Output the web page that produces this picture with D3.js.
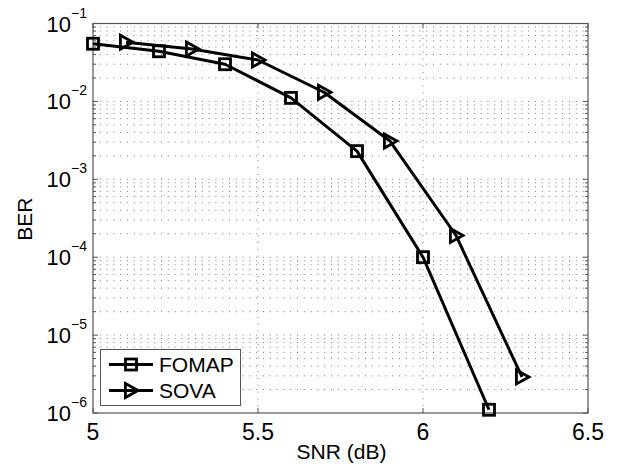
<!DOCTYPE html>
<html>
<head>
<meta charset="utf-8">
<script src="https://cdn.jsdelivr.net/npm/d3@7/dist/d3.min.js"></script>
<style>
  html, body { margin: 0; padding: 0; background: #fff; }
  svg { display: block; font-family: "Liberation Sans", Arial, Helvetica, sans-serif; }
</style>
</head>
<body>
<svg id="chart" width="618" height="470"></svg>
<script>
// BER curves for the two decoders
const fomapSnr = [5.0, 5.2, 5.4, 5.6, 5.8, 6.0, 6.2];
const fomapBer = [0.055, 0.044, 0.030, 0.0111, 0.0023, 0.0001, 0.0000011];
const sovaSnr  = [5.1, 5.3, 5.5, 5.7, 5.9, 6.1, 6.3];
const sovaBer  = [0.0575, 0.047, 0.034, 0.0131, 0.0031, 0.00019, 0.0000029];
const xTicks = [5, 5.5, 6, 6.5];
const xTickLabels = ["5", "5.5", "6", "6.5"];
const yExponents = [-1, -2, -3, -4, -5, -6];
const seriesNames = ["FOMAP", "SOVA"];

(function () {
const svg = d3.select("#chart");
const pLeft = 93, pRight = 588, pTop = 23.5, pBottom = 413;

const x = d3.scaleLinear().domain([5, 6.5]).range([pLeft, pRight]);
const y = d3.scaleLog().domain([1e-6, 1e-1]).range([pBottom, pTop]);

// grid lines (dotted), decades plus minor 2..9
const gridG = svg.append("g");
const yGrid = [];
for (let e = -6; e < -1; e++) {
  for (let m = 1; m <= 9; m++) yGrid.push(m * Math.pow(10, e));
}
gridG.selectAll("line.h").data(yGrid.filter(v => v > 1e-6 && v < 1e-1)).enter()
  .append("line")
  .attr("x1", pLeft).attr("x2", pRight)
  .attr("y1", d => y(d)).attr("y2", d => y(d))
  .attr("stroke", "#7a7a7a").attr("stroke-width", 1)
  .attr("stroke-dasharray", "1,5.8");
gridG.selectAll("line.v").data(xTicks.slice(1, -1)).enter()
  .append("line")
  .attr("x1", d => x(d)).attr("x2", d => x(d))
  .attr("y1", pBottom).attr("y2", pTop)
  .attr("stroke", "#7a7a7a").attr("stroke-width", 1)
  .attr("stroke-dasharray", "1,5.8");

// axes box
svg.append("rect")
  .attr("x", pLeft).attr("y", pTop)
  .attr("width", pRight - pLeft).attr("height", pBottom - pTop)
  .attr("fill", "none").attr("stroke", "#555").attr("stroke-width", 1.2);

// tick marks (inside)
const tickG = svg.append("g").attr("stroke", "#555").attr("stroke-width", 1);
xTicks.forEach(t => {
  tickG.append("line").attr("x1", x(t)).attr("x2", x(t)).attr("y1", pBottom).attr("y2", pBottom - 5);
  tickG.append("line").attr("x1", x(t)).attr("x2", x(t)).attr("y1", pTop).attr("y2", pTop + 5);
});
yGrid.concat([1e-1]).forEach(v => {
  const isMajor = Math.abs(Math.log10(v) - Math.round(Math.log10(v))) < 1e-9;
  const len = isMajor ? 5 : 3;
  tickG.append("line").attr("x1", pLeft).attr("x2", pLeft + len).attr("y1", y(v)).attr("y2", y(v));
  tickG.append("line").attr("x1", pRight).attr("x2", pRight - len).attr("y1", y(v)).attr("y2", y(v));
});

// x tick labels
svg.append("g").selectAll("text").data(xTicks).enter()
  .append("text")
  .attr("x", d => x(d)).attr("y", 440)
  .attr("text-anchor", "middle")
  .attr("font-size", 23).attr("fill", "#000")
  .text((d, i) => xTickLabels[i]);

// y tick labels as 10^e
yExponents.forEach(e => {
  const t = svg.append("text")
    .attr("x", 87).attr("y", y(Math.pow(10, e)) + 8)
    .attr("text-anchor", "end")
    .attr("font-size", 22).attr("fill", "#000");
  t.append("tspan").text("10");
  t.append("tspan").attr("dy", -14).attr("font-size", 14).text("\u2212" + Math.abs(e));
});

// axis labels
svg.append("text")
  .attr("x", (pLeft + pRight) / 2 + 1).attr("y", 459)
  .attr("text-anchor", "middle").attr("font-size", 21).text("SNR (dB)");
svg.append("text")
  .attr("transform", `translate(32,${(pTop + pBottom) / 2 + 1}) rotate(-90)`)
  .attr("text-anchor", "middle").attr("font-size", 21).text("BER");

// series
const line = d3.line().x(d => x(d[0])).y(d => y(d[1]));
const fomap = fomapSnr.map((s, i) => [s, fomapBer[i]]);
const sova = sovaSnr.map((s, i) => [s, sovaBer[i]]);

const plotG = svg.append("g");
[fomap, sova].forEach(data => {
  plotG.append("path").datum(data).attr("d", line)
    .attr("fill", "none").attr("stroke", "#000").attr("stroke-width", 3)
    .attr("stroke-linejoin", "round");
});

function squareMarker(g, cx, cy) {
  g.append("rect").attr("x", cx - 5.5).attr("y", cy - 5.5)
    .attr("width", 11).attr("height", 11)
    .attr("fill", "none").attr("stroke", "#000").attr("stroke-width", 2.8);
}
function triMarker(g, cx, cy) {
  const s = 7;
  g.append("path")
    .attr("d", `M${cx - s * 0.8},${cy - s} L${cx + s * 1.0},${cy} L${cx - s * 0.8},${cy + s} Z`)
    .attr("fill", "none").attr("stroke", "#000").attr("stroke-width", 2.8)
    .attr("stroke-linejoin", "miter");
}
fomap.forEach(d => squareMarker(plotG, x(d[0]), y(d[1])));
sova.forEach(d => triMarker(plotG, x(d[0]), y(d[1])));

// legend
const lg = svg.append("g");
lg.append("rect").attr("x", 100.5).attr("y", 349.5).attr("width", 140).attr("height", 56)
  .attr("fill", "#fff").attr("stroke", "#555").attr("stroke-width", 1);
const legendRows = [364.5, 390.5];
seriesNames.forEach((name, i) => {
  const ly = legendRows[i];
  lg.append("line").attr("x1", 109).attr("x2", 153).attr("y1", ly).attr("y2", ly)
    .attr("stroke", "#000").attr("stroke-width", 3);
  if (i === 0) squareMarker(lg, 131, ly); else triMarker(lg, 131, ly);
  lg.append("text").attr("x", 159).attr("y", ly + 7.5)
    .attr("font-size", 21).attr("fill", "#000").text(name);
});
})();
</script>
</body>
</html>
